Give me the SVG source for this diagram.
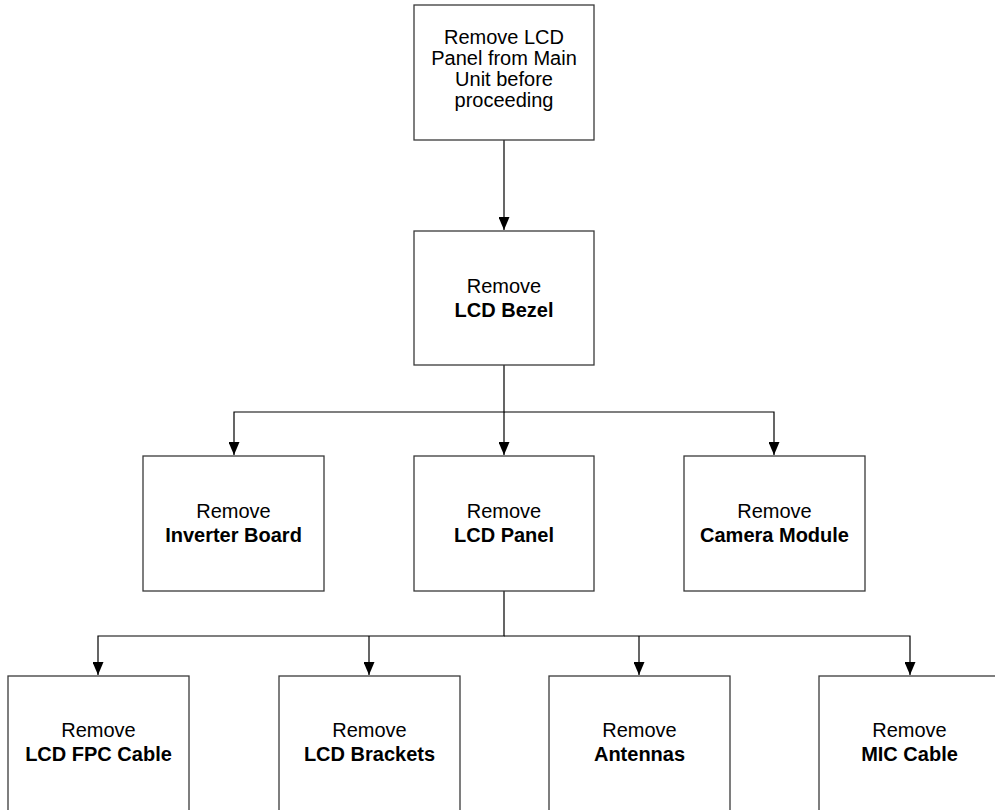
<svg xmlns="http://www.w3.org/2000/svg" width="995" height="810" viewBox="0 0 995 810">
<style>
.box{fill:#fff;stroke:#3a3a3a;stroke-width:1.3}
.t{font-family:"Liberation Sans",Arial,sans-serif;font-size:20px;fill:#000;text-anchor:middle}
.b{font-weight:bold}
.c{fill:none;stroke:#000;stroke-width:1.2}
</style>
<defs>
<marker id="ah" markerWidth="13" markerHeight="11" refX="13" refY="5.5" orient="auto" markerUnits="userSpaceOnUse" viewBox="0 0 13 11">
<path d="M0,0 L13,5.5 L0,11 Z" fill="#000"/>
</marker>
</defs>
<rect width="995" height="810" fill="#fff"/>
<g id="connectors">
<path class="c" d="M504,140 V230" marker-end="url(#ah)"/>
<path class="c" d="M504,365 V412 H234 V455" marker-end="url(#ah)"/>
<path class="c" d="M504,412 V455" marker-end="url(#ah)"/>
<path class="c" d="M504,412 H774 V455" marker-end="url(#ah)"/>
<path class="c" d="M504,591 V636 H98 V675" marker-end="url(#ah)"/>
<path class="c" d="M369,636 V675" marker-end="url(#ah)"/>
<path class="c" d="M504,636 H910 V675" marker-end="url(#ah)"/>
<path class="c" d="M639,636 V675" marker-end="url(#ah)"/>
</g>
<g id="n-top">
<rect class="box" x="414" y="5" width="180" height="135"/>
<text class="t" x="504" y="44">Remove LCD</text>
<text class="t" x="504" y="65">Panel from Main</text>
<text class="t" x="504" y="86">Unit before</text>
<text class="t" x="504" y="107">proceeding</text>
</g>
<g id="n-bezel">
<rect class="box" x="414" y="231" width="180" height="134"/>
<text class="t" x="504" y="293">Remove</text>
<text class="t b" x="504" y="317">LCD Bezel</text>
</g>
<g id="n-inverter">
<rect class="box" x="143" y="456" width="181" height="135"/>
<text class="t" x="233.5" y="518">Remove</text>
<text class="t b" x="233.5" y="542">Inverter Board</text>
</g>
<g id="n-panel">
<rect class="box" x="414" y="456" width="180" height="135"/>
<text class="t" x="504" y="518">Remove</text>
<text class="t b" x="504" y="542">LCD Panel</text>
</g>
<g id="n-camera">
<rect class="box" x="684" y="456" width="181" height="135"/>
<text class="t" x="774.5" y="518">Remove</text>
<text class="t b" x="774.5" y="542">Camera Module</text>
</g>
<g id="n-fpc">
<rect class="box" x="8" y="676" width="181" height="140"/>
<text class="t" x="98.5" y="737">Remove</text>
<text class="t b" x="98.5" y="761">LCD FPC Cable</text>
</g>
<g id="n-brackets">
<rect class="box" x="279" y="676" width="181" height="140"/>
<text class="t" x="369.5" y="737">Remove</text>
<text class="t b" x="369.5" y="761">LCD Brackets</text>
</g>
<g id="n-antennas">
<rect class="box" x="549" y="676" width="181" height="140"/>
<text class="t" x="639.5" y="737">Remove</text>
<text class="t b" x="639.5" y="761">Antennas</text>
</g>
<g id="n-mic">
<rect class="box" x="819" y="676" width="181" height="140"/>
<text class="t" x="909.5" y="737">Remove</text>
<text class="t b" x="909.5" y="761">MIC Cable</text>
</g>
</svg>
